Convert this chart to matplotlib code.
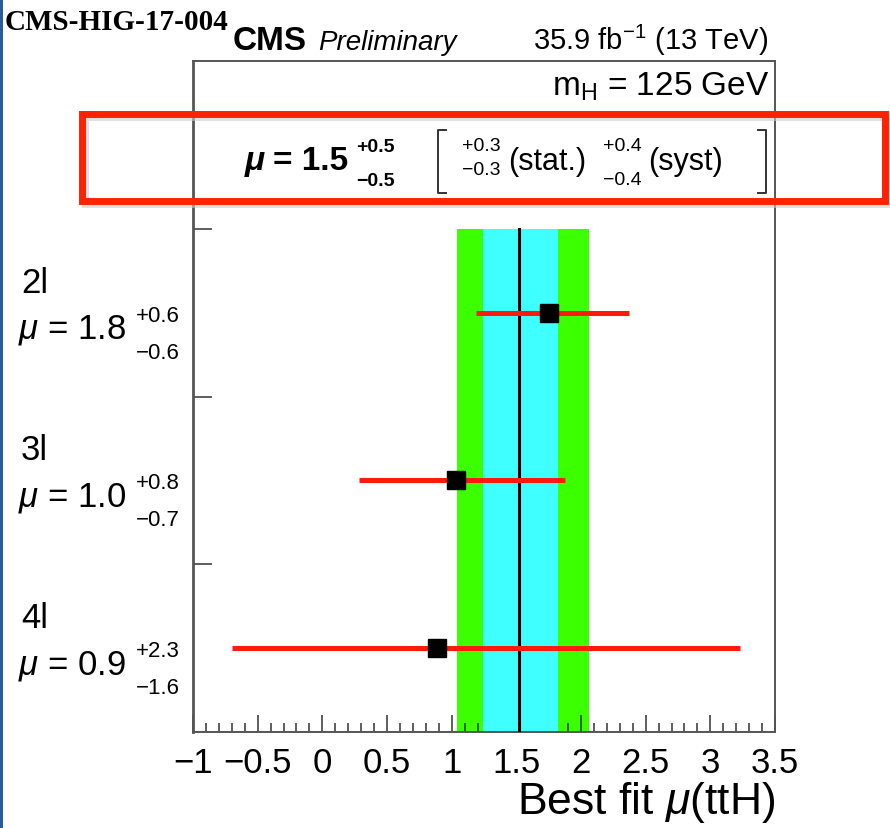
import matplotlib
matplotlib.use("Agg")
import matplotlib.pyplot as plt
from matplotlib.ticker import MultipleLocator, FixedLocator, NullLocator, FuncFormatter
from matplotlib.patches import Rectangle
from matplotlib.lines import Line2D
import matplotlib.transforms as mtransforms

plt.rcParams['font.family'] = ['Liberation Sans', 'DejaVu Sans']
plt.rcParams['mathtext.fontset'] = 'custom'
plt.rcParams['mathtext.rm'] = 'Liberation Sans'
plt.rcParams['mathtext.it'] = 'Liberation Sans:italic'
plt.rcParams['mathtext.bf'] = 'Liberation Sans:bold'

# per-channel best fits
channels = ['2l', '3l', '4l']
mu_fit = [1.75, 1.03, 0.89]
mu_down = [0.56, 0.75, 1.59]
mu_up = [0.62, 0.85, 2.34]
mu_label = ['1.8', '1.0', '0.9']
up_label = ['+0.6', '+0.8', '+2.3']
down_label = ['\u22120.6', '\u22120.7', '\u22121.6']
row_y = [2.5, 1.5, 0.5]

# combined result
mu_comb = 1.52
band_tot = [1.04, 2.06]
band_stat = [1.24, 1.82]
band_rows = [0, 3]

W, H = 890, 829
fig = plt.figure(figsize=(W / 100, H / 100), dpi=100)
ax = fig.add_axes([193 / W, 1 - 733 / H, (775 - 193) / W, (733 - 62) / H])

def fx(x):
    return x / W

def fy(y):
    return 1 - y / H

# bands and central value
ax.fill_betweenx(band_rows, band_tot[0], band_tot[1], color='#3cff00', lw=0, zorder=1)
ax.fill_betweenx(band_rows, band_stat[0], band_stat[1], color='#40ffff', lw=0, zorder=2)
ax.plot([mu_comb, mu_comb], band_rows, color='black', lw=2.2, zorder=3)

ax.errorbar(mu_fit, row_y, xerr=[mu_down, mu_up], fmt='s', color='black', ms=13,
            ecolor='#ff1a0a', elinewidth=3.6, capsize=0, zorder=4)

ax.set_xlim(-1, 3.5)
ax.set_ylim(0, 4)

ax.xaxis.set_major_locator(MultipleLocator(0.5))
ax.xaxis.set_minor_locator(MultipleLocator(0.1))
ax.xaxis.set_major_formatter(FuncFormatter(lambda v, p: f'{v:g}'.replace('-', '\u2212')))
ax.tick_params(axis='x', which='major', direction='in', length=12, width=1.1,
               labelsize=25, pad=10, top=False, color='#333333')
ax.tick_params(axis='x', which='minor', direction='in', length=6.5, width=1.1,
               top=False, color='#333333')
ax.yaxis.set_major_locator(FixedLocator([1, 2, 3]))
ax.yaxis.set_minor_locator(NullLocator())
ax.tick_params(axis='y', which='major', direction='in', length=14, width=1.1,
               labelleft=False, right=False, color='#333333')
for s in ax.spines.values():
    s.set_color('#555555')
    s.set_linewidth(1.4)
ax.spines['left'].set_linewidth(2)

ax.set_xlabel('Best fit $\\mathit{\\mu}$(ttH)', loc='right', fontsize=32, labelpad=0)

# channel labels on the left
trans = mtransforms.blended_transform_factory(fig.transFigure, ax.transData)
for name, y, m, up, dn in zip(channels, row_y, mu_label, up_label, down_label):
    ax.annotate(name, xy=(fx(21), y), xycoords=trans, xytext=(0, 21),
                textcoords='offset pixels', fontsize=25, va='baseline',
                annotation_clip=False)
    ax.annotate('$\\mu$ = ' + m, xy=(fx(18), y), xycoords=trans, xytext=(0, -25),
                textcoords='offset pixels', fontsize=25, va='baseline',
                annotation_clip=False)
    ax.annotate(up, xy=(fx(136), y), xycoords=trans, xytext=(0, -8),
                textcoords='offset pixels', fontsize=16, va='baseline',
                annotation_clip=False)
    ax.annotate(dn, xy=(fx(136), y), xycoords=trans, xytext=(0, -45),
                textcoords='offset pixels', fontsize=16, va='baseline',
                annotation_clip=False)

# header
fig.text(fx(5), fy(30), 'CMS-HIG-17-004', family='Liberation Serif', weight='bold',
         fontsize=21, va='baseline')
fig.text(fx(233), fy(50), 'CMS', weight='bold', fontsize=24, va='baseline')
fig.text(fx(318), fy(50), 'Preliminary', style='italic', fontsize=20, va='baseline')
fig.text(fx(768), fy(50), '35.9 fb$^{-1}$ (13 TeV)', fontsize=21, va='baseline', ha='right')
fig.text(fx(770), fy(96), 'm$_{\\mathrm{H}}$ = 125 GeV', fontsize=24, va='baseline', ha='right')

fig.text(fx(245), fy(170), '\u03bc', style='italic', weight='bold', fontsize=24, va='baseline')
fig.text(fx(273), fy(170), '= 1.5', weight='bold', fontsize=24, va='baseline')
fig.text(fx(356), fy(152), '+0.5', weight='bold', fontsize=14, va='baseline')
fig.text(fx(356), fy(186), '\u22120.5', weight='bold', fontsize=14, va='baseline')
fig.text(fx(462), fy(151), '+0.3', fontsize=14, va='baseline')
fig.text(fx(462), fy(175), '\u22120.3', fontsize=14, va='baseline')
fig.text(fx(508), fy(170), '(stat.)', fontsize=22, va='baseline')
fig.text(fx(603), fy(151), '+0.4', fontsize=14, va='baseline')
fig.text(fx(603), fy(185), '\u22120.4', fontsize=14, va='baseline')
fig.text(fx(648), fy(170), '(syst)', fontsize=22, va='baseline')

# brackets around the stat/syst split
for xv, xs in [(438, 446), (766, 758)]:
    fig.add_artist(Line2D([fx(xs), fx(xv), fx(xv), fx(xs)], [fy(131), fy(131), fy(194), fy(194)],
                          color='#333333', lw=1.4))

# slide annotations: red highlight box and blue left edge
fig.add_artist(Rectangle((fx(85), fy(205)), (887 - 85) / W, (205 - 118) / H,
                         transform=fig.transFigure, fill=False, ec='#cccccc', lw=5, alpha=0.6))
fig.add_artist(Rectangle((fx(82), fy(202)), (885 - 82) / W, (202 - 115) / H,
                         transform=fig.transFigure, fill=False, ec='#ff2200', lw=5))
fig.add_artist(Rectangle((0, 0), 3 / W, 1, transform=fig.transFigure, fc='#2a5c98', ec='none'))

fig.savefig('out.png', dpi=100)
